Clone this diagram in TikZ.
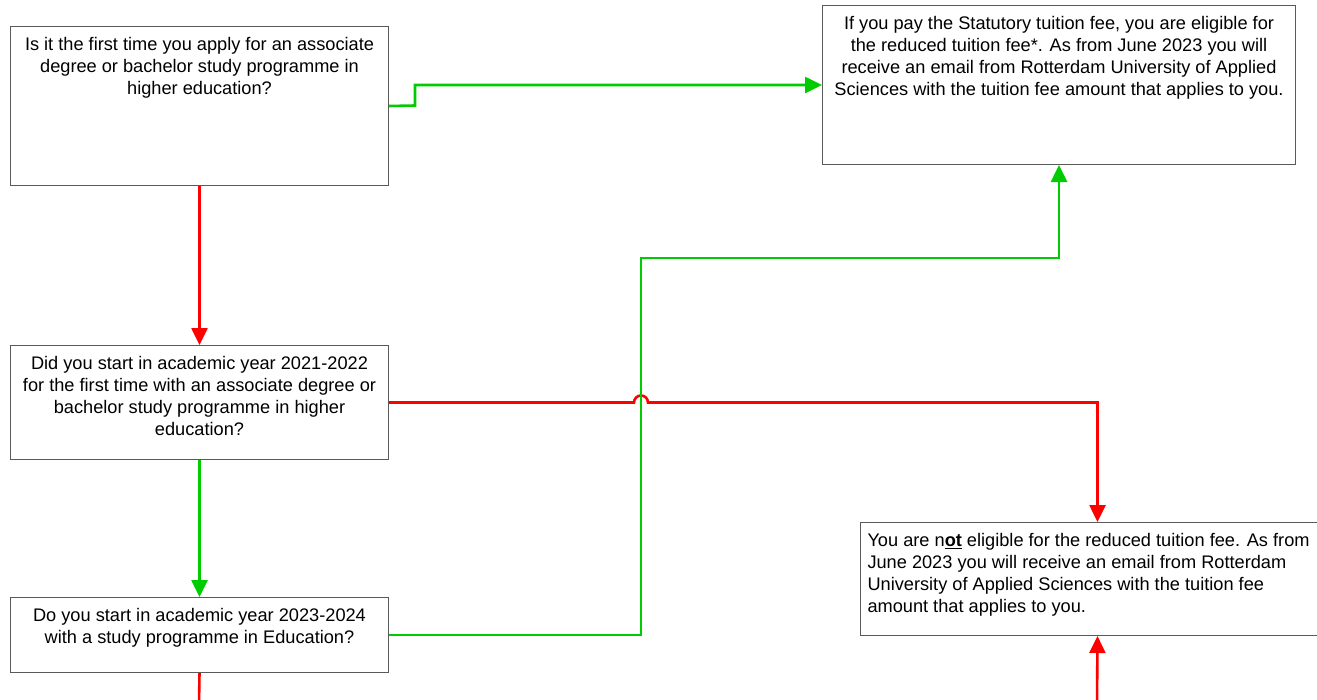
\documentclass[tikz,border=0pt]{standalone}
\usepackage{fontspec}
\setmainfont{Liberation Sans}
\usetikzlibrary{arrows.meta}
\definecolor{yesgreen}{RGB}{0,204,0}
\definecolor{nored}{RGB}{255,0,0}
\definecolor{boxgray}{RGB}{90,90,90}
\newcommand{\boxtxt}[4]{\parbox[c][#2][t]{#1}{#3\vspace*{11pt}#4}}
\tikzset{
  qbox/.style={draw=boxgray,line width=1pt,anchor=north west,inner sep=0pt,font=\fontsize{18.2}{22}\selectfont},
  yes/.style={draw=yesgreen,line width=2.6pt,-{Triangle[length=17pt,width=16pt]}},
  no/.style={draw=nored,line width=2.6pt,-{Triangle[length=17pt,width=16pt]}}
}
\begin{document}
\begin{tikzpicture}[x=1pt,y=-1pt]
\useasboundingbox (0,0) rectangle (1317,699);
\node[qbox] (qone) at (10,26) {\boxtxt{378pt}{159pt}{\centering}{Is it the first time you apply for an associate\\ degree or bachelor study programme in\\ higher education?}};
\node[qbox] (eligible) at (822,5) {\boxtxt{473pt}{159pt}{\centering}{If you pay the Statutory tuition fee, you are eligible for\\ the reduced tuition fee*. As from June 2023 you will\\ receive an email from Rotterdam University of Applied\\ Sciences with the tuition fee amount that applies to you.}};
\node[qbox] (qtwo) at (10,345) {\boxtxt{378pt}{114pt}{\centering}{Did you start in academic year 2021-2022\\ for the first time with an associate degree or\\ bachelor study programme in higher\\ education?}};
\node[qbox] (qthree) at (10,597) {\boxtxt{378pt}{75pt}{\centering}{Do you start in academic year 2023-2024\\ with a study programme in Education?}};
\node[qbox] (noelig) at (860,522) {\boxtxt{474pt}{113pt}{\raggedright\leftskip=7pt}{You are n\underline{\textbf{ot}} eligible for the reduced tuition fee. As from\\ June 2023 you will receive an email from Rotterdam\\ University of Applied Sciences with the tuition fee\\ amount that applies to you.}};
\coordinate (kink) at (415,105.5);
\coordinate (bend) at (641,258);
\coordinate (hop) at (641,402);
\coordinate (outq) at (199,705);
\coordinate (inno) at (1097,705);
\draw[yes] (qone.east) -- (kink) |- (eligible.west);
\draw[no] (qone.south) -- (qtwo.north);
\draw[no] (qtwo.east) -- ([xshift=-7pt]qtwo.east -| hop) arc[start angle=180,end angle=0,radius=7pt] -| (noelig.north);
\draw[yes] (qtwo.south) -- (qthree.north);
\draw[yes] (qthree.east) -| (bend) -| (eligible.south);
\draw[no,-] (qthree.south) -- (outq);
\draw[no] (inno) -- (noelig.south);
\end{tikzpicture}
\end{document}
